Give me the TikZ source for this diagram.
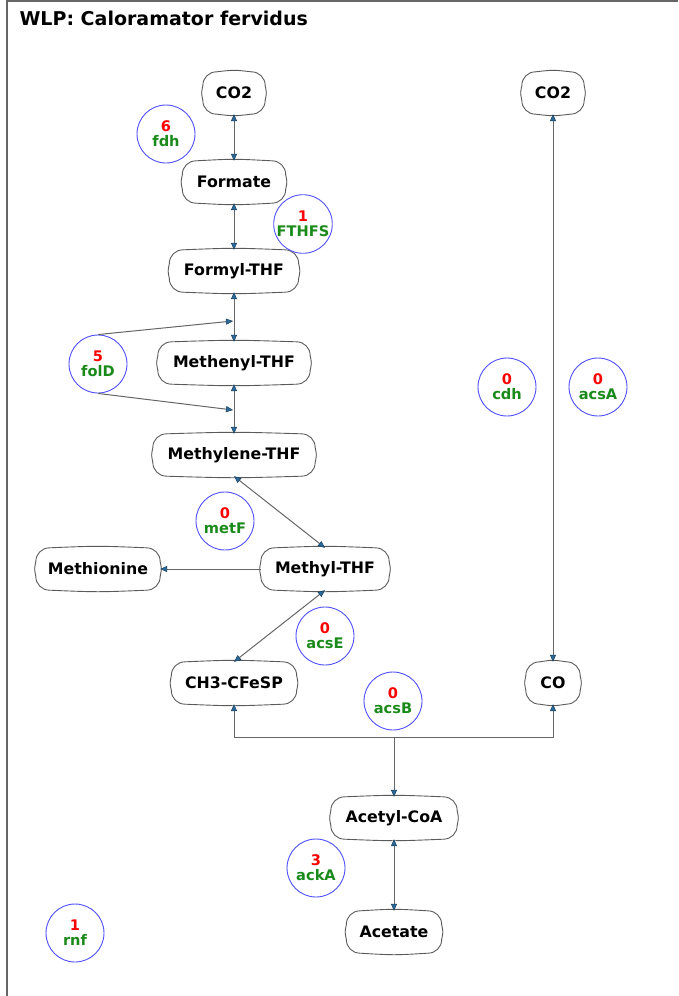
\documentclass[tikz,border=0pt]{standalone}
\usepackage{fontspec}
\setmainfont{DejaVu Sans}
\usetikzlibrary{arrows.meta,calc}
\definecolor{edgecol}{HTML}{666666}
\definecolor{tipcol}{HTML}{2B6A9A}
\definecolor{tipdark}{HTML}{1A3F5C}
\definecolor{boxcol}{HTML}{5A5A5A}
\definecolor{enzblue}{HTML}{5050FF}
\definecolor{numred}{HTML}{FF0000}
\definecolor{namegreen}{HTML}{1A8A1A}
\tikzset{
  met/.style={draw=none, minimum height=42pt, minimum width=#1, inner sep=0pt,
    font=\fontsize{15.8}{18}\selectfont\bfseries},
  metline/.style={draw=boxcol, line width=0.9pt},
  enz/.style={draw=enzblue, line width=0.9pt, circle, minimum size=58pt, inner sep=0pt,
    align=center, font=\fontsize{14.6}{15}\selectfont\bfseries},
  rx/.style={draw=edgecol, line width=1pt,
    arrows={-Triangle[length=7pt,width=6pt,fill=tipcol,color=tipdark,line width=0.5pt]}},
  rxb/.style={draw=edgecol, line width=1pt, arrows={Triangle[length=7pt,width=6pt,fill=tipcol,color=tipdark,line width=0.5pt]-Triangle[length=7pt,width=6pt,fill=tipcol,color=tipdark,line width=0.5pt]}},
}
\newcommand{\enzlabel}[2]{\textcolor{numred}{#1}\\\textcolor{namegreen}{#2}}
\begin{document}
\begin{tikzpicture}[x=1pt,y=-1pt]
\useasboundingbox (0,0) rectangle (678,996);
\draw[draw=gray!80!black, line width=2pt] (7,996) -- (7,1) -- (678,1);
\node[anchor=west, font=\fontsize{19}{22}\selectfont\bfseries] (title) at (16,18) {WLP: Caloramator fervidus};

% metabolites
\node[met=62pt]  (co2a)      at (234,93)  {CO2};
\node[met=103pt] (formate)   at (234,182) {Formate};
\node[met=129pt] (formyl)    at (234,271) {Formyl-THF};
\node[met=152pt] (methenyl)  at (234,363) {Methenyl-THF};
\node[met=162pt] (methylene) at (234,455) {Methylene-THF};
\node[met=124pt] (methionine) at (98,569) {Methionine};
\node[met=128pt] (methyl)    at (325,569) {Methyl-THF};
\node[met=125pt] (ch3)       at (234,683) {CH3-CFeSP};
\node[met=54pt]  (co)        at (553,683) {CO};
\node[met=62pt]  (co2b)      at (553,93)  {CO2};
\node[met=126pt] (acetylcoa) at (394,818) {Acetyl-CoA};
\node[met=95pt]  (acetate)   at (394,932) {Acetate};

% gently bowed rounded outlines of metabolite boxes
\foreach \n in {co2a,formate,formyl,methenyl,methylene,methionine,methyl,ch3,co,co2b,acetylcoa,acetate}{
  \draw[metline]
    ($(\n.north west)+(14,0)$) .. controls ($(\n.north)+(0,-2)$) .. ($(\n.north east)+(-14,0)$)
    .. controls ($(\n.north east)+(-6,0)$) and ($(\n.north east)+(0,6)$) .. ($(\n.north east)+(0,14)$)
    .. controls ($(\n.east)+(1.5,0)$) .. ($(\n.south east)+(0,-14)$)
    .. controls ($(\n.south east)+(0,-6)$) and ($(\n.south east)+(-6,0)$) .. ($(\n.south east)+(-14,0)$)
    .. controls ($(\n.south)+(0,2)$) .. ($(\n.south west)+(14,0)$)
    .. controls ($(\n.south west)+(6,0)$) and ($(\n.south west)+(0,-6)$) .. ($(\n.south west)+(0,-14)$)
    .. controls ($(\n.west)+(-1.5,0)$) .. ($(\n.north west)+(0,14)$)
    .. controls ($(\n.north west)+(0,6)$) and ($(\n.north west)+(6,0)$) .. cycle;
}

% enzymes
\node[enz] (fdh)   at (166,134) {\enzlabel{6}{fdh}};
\node[enz] (fthfs) at (303,224) {\enzlabel{1}{FTHFS}};
\node[enz] (fold)  at (98,364)  {\enzlabel{5}{folD}};
\node[enz] (metf)  at (225,521) {\enzlabel{0}{metF}};
\node[enz] (cdh)   at (507,387) {\enzlabel{0}{cdh}};
\node[enz] (acsa)  at (598,387) {\enzlabel{0}{acsA}};
\node[enz] (acse)  at (325,636) {\enzlabel{0}{acsE}};
\node[enz] (acsb)  at (393,701) {\enzlabel{0}{acsB}};
\node[enz] (acka)  at (316,868) {\enzlabel{3}{ackA}};
\node[enz] (rnf)   at (75,933)  {\enzlabel{1}{rnf}};

% connectors
\draw[rxb] (co2a) -- (formate);
\draw[rxb] (formate) -- (formyl);
\draw[rxb] (formyl) -- (methenyl);
\draw[rxb] (methenyl) -- (methylene);
\coordinate (f1) at (233,321);
\coordinate (f2) at (233,410);
\draw[rx] (fold.north) -- (f1);
\draw[rx] (fold.south) -- (f2);
\draw[rxb] (methylene.south) -- (methyl.north);
\draw[rx] (methyl.west) -- (methionine.east);
\draw[rxb] (methyl.south) -- (ch3.north);
\draw[rxb] (co2b) -- (co);
\coordinate (j) at (394,737);
\draw[rx] (j) -- (acetylcoa.north);
\draw[rx] (j) -| (ch3.south);
\draw[rx] (j) -| (co.south);
\draw[rxb] (acetylcoa) -- (acetate);
\end{tikzpicture}
\end{document}
